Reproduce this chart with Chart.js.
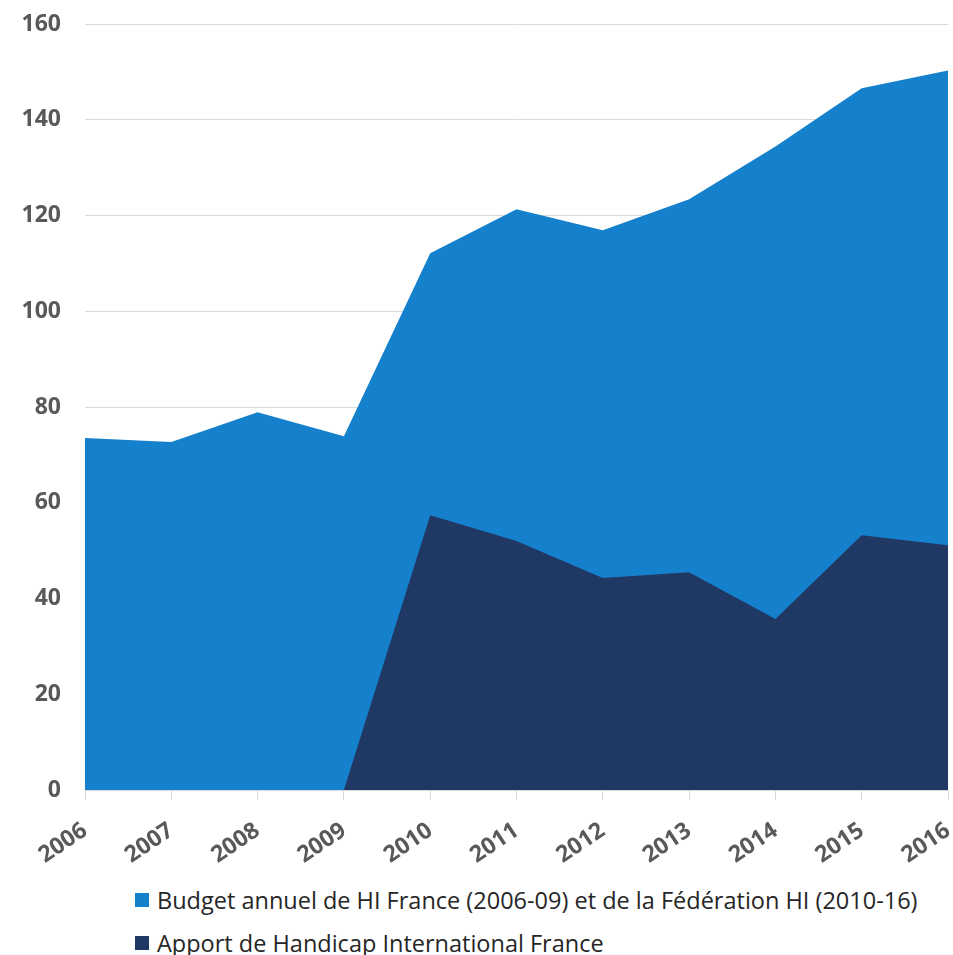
<!DOCTYPE html>
<html><head><meta charset="utf-8">
<script src="https://cdn.jsdelivr.net/npm/chart.js@4/dist/chart.umd.min.js"></script>
<style>
html,body{margin:0;padding:0;background:#fff;}
#wrap{position:relative;width:953px;height:955px;}
#c{position:absolute;left:0;top:0;}
#legend{position:absolute;left:135px;top:878px;font-family:"Open Sans",sans-serif;font-size:23.5px;color:#262626;}
.li{display:flex;align-items:center;height:43px;}
.sw{width:14px;height:14px;margin-right:8px;}
</style></head>
<body><div id="wrap"><canvas id="c" width="953" height="875"></canvas><div id="legend"></div></div>
<script>
const years = ["2006","2007","2008","2009","2010","2011","2012","2013","2014","2015","2016"];
const budget = [73.5, 72.7, 78.9, 73.9, 112.1, 121.3, 116.9, 123.4, 134.4, 146.6, 150.3];
const apport = [0, 0, 0, 0, 57.4, 52.0, 44.3, 45.5, 35.7, 53.2, 51.1];
const budgetLabel = "Budget annuel de HI France (2006-09) et de la Fédération HI (2010-16)";
const apportLabel = "Apport de Handicap International France";
const colBudget = "#1581CC";
const colApport = "#203864";

const CANVAS_H = 875;
const ctx = document.getElementById('c').getContext('2d');
const chart = new Chart(ctx, {
  type: 'line',
  data: {
    labels: years,
    datasets: [
      {label: apportLabel, data: apport, backgroundColor: colApport, borderColor: colApport, borderWidth: 0, fill: 'origin', pointRadius: 0, tension: 0, order: 1},
      {label: budgetLabel, data: budget, backgroundColor: colBudget, borderColor: colBudget, borderWidth: 0, fill: 'origin', pointRadius: 0, tension: 0, order: 2}
    ]
  },
  options: {
    responsive: false,
    animation: false,
    layout: {padding: {left: 0, right: 5, top: 24, bottom: 0}},
    plugins: {legend: {display: false}, tooltip: {enabled: false}},
    scales: {
      x: {
        offset: false,
        grid: {display: true, drawOnChartArea: false, drawTicks: true, tickLength: 10, color: '#d9d9d9'},
        border: {display: true, color: '#d9d9d9'},
        ticks: {minRotation: 34, maxRotation: 34, color: '#595959', font: {family: '"Open Sans", sans-serif', size: 23, weight: 'bold'}, padding: 17},
        afterFit: (s) => { s.paddingLeft = 0; s.paddingRight = 0; s.height = CANVAS_H - 790; }
      },
      y: {
        min: 0, max: 160,
        ticks: {stepSize: 20, color: '#595959', font: {family: '"Open Sans", sans-serif', size: 23, weight: 'bold'}, padding: 24},
        grid: {color: '#d9d9d9', drawTicks: false},
        border: {display: false},
        afterFit: (s) => { s.paddingTop = 0; s.paddingBottom = 0; s.width = 85; }
      }
    }
  }
});

const leg = document.getElementById('legend');
[[budgetLabel, colBudget], [apportLabel, colApport]].forEach(([t, c]) => {
  const d = document.createElement('div'); d.className = 'li';
  const s = document.createElement('span'); s.className = 'sw'; s.style.background = c;
  const tx = document.createElement('span'); tx.textContent = t;
  d.appendChild(s); d.appendChild(tx); leg.appendChild(d);
});
</script></body></html>
